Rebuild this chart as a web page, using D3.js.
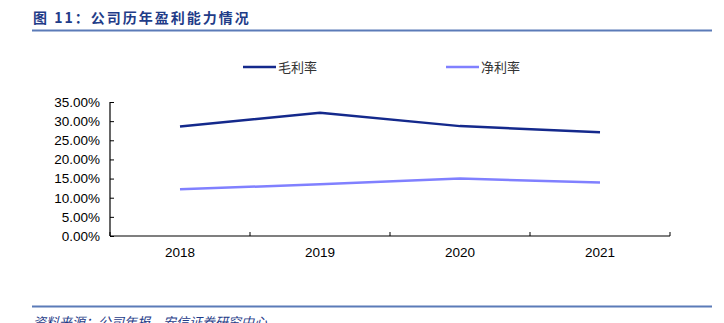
<!DOCTYPE html>
<html><head><meta charset="utf-8">
<script src="https://cdn.jsdelivr.net/npm/d3@7"></script>
<style>body{margin:0;background:#fff}svg{display:block}</style>
</head><body>
<script>
const categories = ["2018","2019","2020","2021"];
const grossMargin = [0.286, 0.322, 0.287, 0.271];
const netMargin = [0.122, 0.135, 0.150, 0.140];
const seriesNames = ["毛利率","净利率"];
const yTicks = [0,0.05,0.10,0.15,0.20,0.25,0.30,0.35];
const titleText = "图 11：公司历年盈利能力情况";
const sourceText = "资料来源：公司年报，安信证券研究中心";

const W=724,H=323;
const svg=d3.select("body").append("svg").attr("width",W).attr("height",H);
const cjk="'Noto Sans CJK SC','Noto Sans',sans-serif";
const latin="'Liberation Sans',Arial,sans-serif";

svg.append("text").attr("x",33).attr("y",23).attr("font-family",cjk).attr("font-weight","bold")
  .attr("font-size",14).attr("fill","#1F3C88").attr("letter-spacing","2px").text(titleText);
svg.append("line").attr("x1",32).attr("x2",712).attr("y1",30.5).attr("y2",30.5).attr("stroke","#5B7BB8").attr("stroke-width",2);

svg.append("line").attr("x1",32).attr("x2",712).attr("y1",306.5).attr("y2",306.5).attr("stroke","#5B7BB8").attr("stroke-width",2);
svg.append("text").attr("x",33).attr("y",327).attr("font-family",cjk).attr("font-size",13).attr("font-style","italic")
  .attr("fill","#1F3C88").text(sourceText);

const x=d3.scaleBand().domain(categories).range([110,670]);
const y=d3.scaleLinear().domain([0,0.35]).range([236,102]);

const yAxis=svg.append("g").attr("transform","translate(110,0)")
  .call(d3.axisRight(y).tickValues(yTicks).tickSize(4).tickFormat(d=>(d*100).toFixed(2)+"%"));
yAxis.selectAll("text").attr("x",-10).attr("text-anchor","end");
const xAxis=svg.append("g").attr("transform","translate(0,236)")
  .call(d3.axisBottom(x).tickSize(0).tickPadding(11));
[110,...categories.map(c=>x(c)+x.bandwidth())].forEach(v=>{
  xAxis.append("line").attr("x1",v).attr("x2",v).attr("y1",0).attr("y2",-4).attr("stroke","#000");
});
svg.selectAll(".domain").attr("stroke","#000").attr("stroke-width",1.2);
svg.selectAll(".tick line").attr("stroke","#000");
svg.selectAll(".tick text").attr("font-family",latin).attr("font-size",13.5).attr("fill","#000");
xAxis.select(".domain").attr("d","M110,0H670");
yAxis.select(".domain").attr("d","M0,102V236");

const colors=["#14298C","#8080FF"];
const line=d3.line().x((d,i)=>x(categories[i])+x.bandwidth()/2).y(d=>y(d));
[grossMargin,netMargin].forEach((s,k)=>{
  svg.append("path").attr("d",line(s)).attr("fill","none").attr("stroke",colors[k]).attr("stroke-width",2.5);
});

const legX=[243,446];
seriesNames.forEach((n,k)=>{
  svg.append("line").attr("x1",legX[k]).attr("x2",legX[k]+33).attr("y1",67).attr("y2",67).attr("stroke",colors[k]).attr("stroke-width",2.5);
  svg.append("text").attr("x",legX[k]+35).attr("y",72).attr("font-family",cjk).attr("font-size",13).attr("fill","#333").text(n);
});
</script>
</body></html>
